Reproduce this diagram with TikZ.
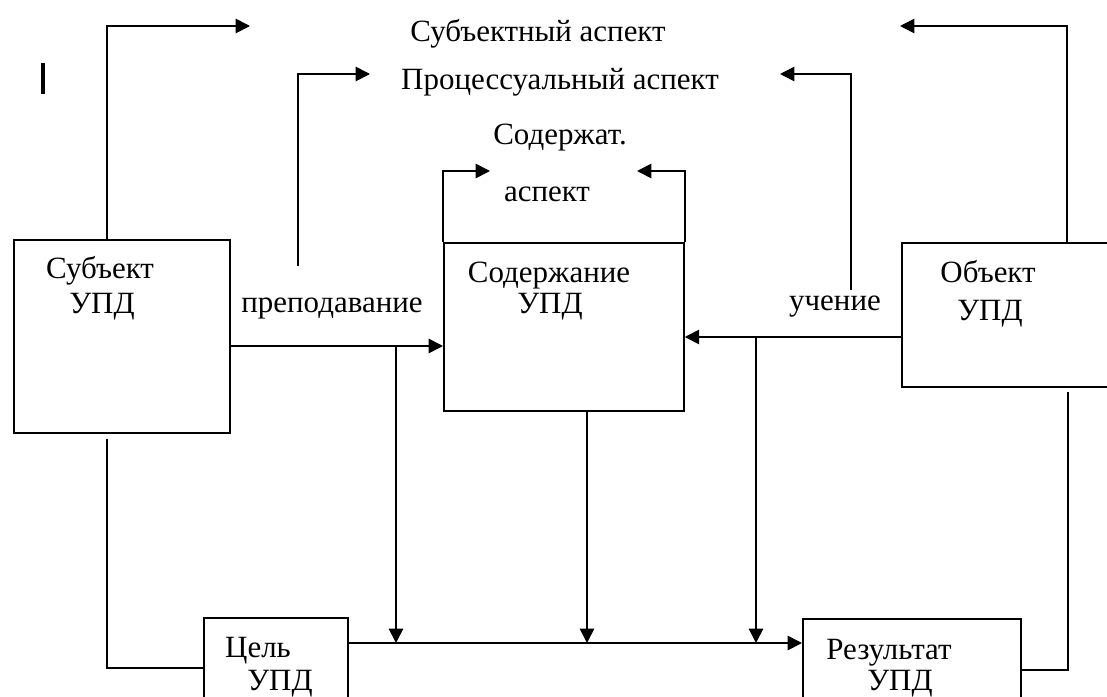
\documentclass[tikz,border=0pt]{standalone}
\usepackage{fontspec}
\setmainfont{Liberation Serif}
\usetikzlibrary{positioning, arrows.meta}

\begin{document}
\begin{tikzpicture}[x=0.025cm, y=-0.025cm,
      b/.style={draw, line width=1.2pt, anchor=north west, inner sep=0pt},
      t/.style={font=\fontsize{22}{26}\selectfont, anchor=base, inner sep=0pt},
      ln/.style={line width=1.2pt},
      ar/.style={ln, -{Triangle[length=0.36cm, width=0.36cm]}}]
    \useasboundingbox (0,0) rectangle (1107,697);
    \clip (0,0) rectangle (1107,697);
    % boxes
    \node[b, minimum width=5.4cm, minimum height=4.825cm] (subj) at (13,239) {};
    \node[b, minimum width=6cm, minimum height=4.2cm] (cont) at (443,242) {};
    \node[b, minimum width=5.5cm, minimum height=3.6cm] (obj) at (901,242) {};
    \node[b, minimum width=3.6cm, minimum height=2.5cm] (goal) at (203,617) {};
    \node[b, minimum width=5.45cm, minimum height=2.5cm] (res) at (802,618) {};
    % texts
    \node[t] (asubj) at (538,42) {Субъектный аспект};
    \node[t] (aproc) at (560,89) {Процессуальный аспект};
    \node[t] (acont) at (560,144) {Содержат.};
    \node[t] (acont2) at (547,201) {аспект};
    \node[t] (tsubj) at (100,278) {Субъект};
    \node[t] (tsubj2) at (102,313) {УПД};
    \node[t] (tcont) at (549,282) {Содержание};
    \node[t] (tcont2) at (550,313) {УПД};
    \node[t] (tobj) at (988,282) {Объект};
    \node[t] (tobj2) at (990,320) {УПД};
    \node[t] (tgoal) at (258,657) {Цель};
    \node[t] (tgoal2) at (280,690) {УПД};
    \node[t] (tres) at (889,659) {Результат};
    \node[t] (tres2) at (900,690) {УПД};
    \node[t] (teach) at (332,312) {преподавание};
    \node[t] (learn) at (835,310) {учение};
    % free ends
    \coordinate (s1) at (250,26);
    \coordinate (s2) at (900,26);
    \coordinate (p0) at (298,266);
    \coordinate (p1) at (370,74);
    \coordinate (p2) at (851,290);
    \coordinate (p3) at (780,74);
    \coordinate (c1) at (490,171);
    \coordinate (c2) at (637,171);
    \coordinate (h1) at (0,346);
    \coordinate (h2) at (0,337);
    \coordinate (h3) at (0,643);
    \coordinate (h4) at (0,668);
    \coordinate (h5) at (0,670);
    \coordinate (m1) at (396,643);
    \coordinate (m2) at (587,643);
    \coordinate (m3) at (756,643);
    % aspects
    \draw[ar] (subj.north west) ++(94,0) |- (s1);
    \draw[ar] (p0) |- (p1);
    \draw[ar] (obj.north west) ++(166,0) |- (s2);
    \draw[ar] (p2) |- (p3);
    \draw[ar] (cont.north west) |- (c1);
    \draw[ar] (cont.north east) |- (c2);
    % teaching and learning
    \draw[ar] (subj.east |- h1) -- (cont.west |- h1);
    \draw[ar] (obj.west |- h2) -- (cont.east |- h2);
    \draw[ar] (m1 |- h1) -- (m1);
    \draw[ar] (cont.south -| m2) -- (m2);
    \draw[ar] (m3 |- h2) -- (m3);
    \draw[ar] (goal.east |- h3) -- (res.west |- h3);
    \draw[ln] (subj.south west) ++(94,5) |- (goal.west |- h4);
    \draw[ln] (obj.south west) ++(167,4) |- (res.east |- h5);
    % stray mark
    \draw[line width=2.2pt] (43,63) -- (43,94);
\end{tikzpicture}
\end{document}
